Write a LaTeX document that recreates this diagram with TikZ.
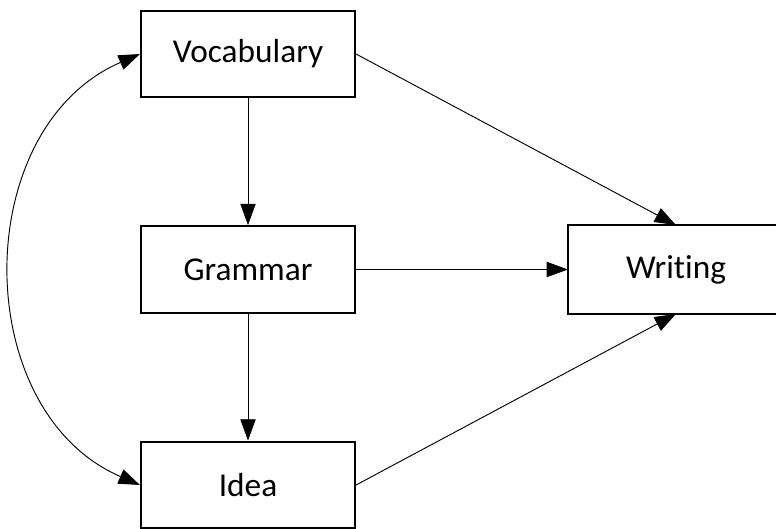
\documentclass[tikz,border=0pt]{standalone}
\usepackage{fontspec}
\setmainfont{Carlito}[Ligatures={NoCommon}]
\usetikzlibrary{arrows.meta}
\begin{document}
\begin{tikzpicture}[x=0.75pt,y=-0.75pt,
  box/.style={draw=black,line width=1.6pt,minimum width=160.5pt,minimum height=65pt,inner sep=0pt,
    font=\fontsize{25}{30}\selectfont},
  conn/.style={draw=black,line width=0.7pt,-{Triangle[length=16pt,width=11.5pt]}},
  bconn/.style={draw=black,line width=0.7pt,{Triangle[length=16pt,width=11.5pt]}-{Triangle[length=16pt,width=11.5pt]}}]
\useasboundingbox (0,0) rectangle (776,529);
\clip (0,0) rectangle (776,529);
\node[box] (voc) at (248,54) {Vocabulary};
\node[box] (gra) at (248,269.5) {Grammar};
\node[box] (ide) at (248,485) {Idea};
\node[box,draw=none] (wri) at (676,269.5) {Writing};
\draw[line width=1.6pt] (wri.north east) ++(30,0) -| (wri.south west) -- ++(244,0);
\draw[conn] (voc) -- (gra);
\draw[conn] (gra) -- (ide);
\draw[conn] (gra) -- (wri);
\draw[conn] (voc.east) -- (wri.north);
\draw[conn] (ide.east) -- (wri.south);
\draw[bconn] (voc.west) .. controls (-31,128) and (-31,411) .. (ide.west);
\end{tikzpicture}
\end{document}
